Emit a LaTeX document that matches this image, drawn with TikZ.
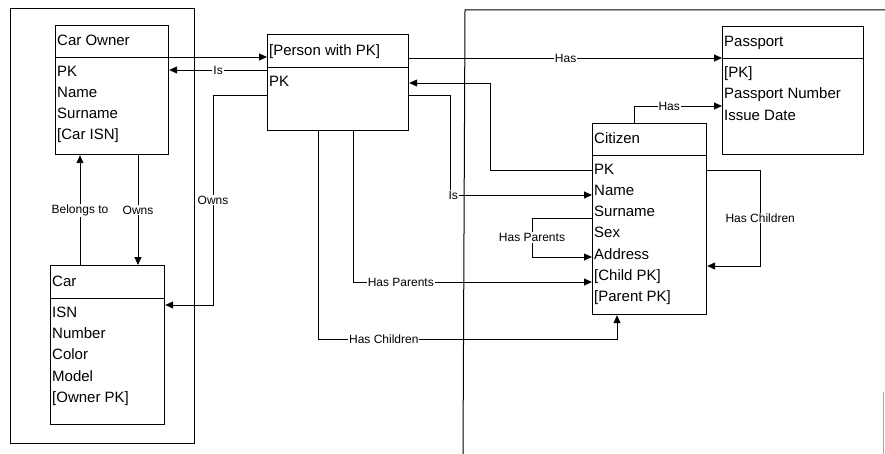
\documentclass[tikz,border=0pt]{standalone}
\usepackage{fontspec}
\setmainfont{Liberation Sans}
\usetikzlibrary{arrows.meta}
\begin{document}
\begin{tikzpicture}[x=1pt,y=-1pt,
  box/.style={draw, line width=1.2pt, inner sep=0pt, anchor=north west},
  ttl/.style={anchor=west, inner sep=0pt, xshift=2pt, text height=11pt, text depth=3pt, font=\fontsize{15}{18}\selectfont},
  attr/.style={anchor=north west, inner sep=0pt, align=left, font=\fontsize{15}{21.3}\selectfont},
  lbl/.style={fill=white, inner sep=1pt, font=\fontsize{12}{14}\selectfont},
  arr/.style={line width=0.9pt, -{Triangle[length=8pt,width=7pt]}},
  grp/.style={line width=1pt}
]
\useasboundingbox (0,0) rectangle (885,454);

% group frames
\draw[grp] (10,9) rectangle (194,443);
\draw[grp] (463,454) -- (465,10) -- (885,10);
\draw[grp, black!35] (883,392) -- (883,454);

% Car Owner
\node[box, minimum width=113, minimum height=32] (ownerH) at (55,25) {};
\node[box, minimum width=113, minimum height=97] (ownerB) at (55,57) {};
\node[ttl] (ownerT) at (ownerH.west) {Car Owner};
\node[attr] (ownerA) at ([xshift=2pt,yshift=-8.5pt]ownerB.north west) {PK\\Name\\Surname\\{[Car ISN]}};

% Car
\node[box, minimum width=114, minimum height=33] (carH) at (50,265) {};
\node[box, minimum width=114, minimum height=126] (carB) at (50,298) {};
\node[ttl] (carT) at (carH.west) {Car};
\node[attr] (carA) at ([xshift=2pt,yshift=-8.5pt]carB.north west) {ISN\\Number\\Color\\Model\\{[Owner PK]}};

% Person with PK
\node[box, minimum width=141, minimum height=33] (personH) at (267,34) {};
\node[box, minimum width=141, minimum height=63] (personB) at (267,67) {};
\node[ttl] (personT) at (personH.west) {[Person with PK]};
\node[attr] (personA) at ([xshift=2pt,yshift=-8.5pt]personB.north west) {PK};

% Passport
\node[box, minimum width=141, minimum height=32] (passH) at (722,26) {};
\node[box, minimum width=141, minimum height=96] (passB) at (722,58) {};
\node[ttl] (passT) at (passH.west) {Passport};
\node[attr] (passA) at ([xshift=2pt,yshift=-8.5pt]passB.north west) {{[PK]}\\Passport Number\\Issue Date};

% Citizen
\node[box, minimum width=114, minimum height=32] (citH) at (592,123) {};
\node[box, minimum width=114, minimum height=159] (citB) at (592,155) {};
\node[ttl] (citT) at (citH.west) {Citizen};
\node[attr] (citA) at ([xshift=2pt,yshift=-8.5pt]citB.north west) {PK\\Name\\Surname\\Sex\\Address\\{[Child PK]}\\{[Parent PK]}};

% connectors
\draw[arr] (ownerB.north east) -- (ownerB.north east -| personH.west);
\draw[arr] ([yshift=-3pt]personB.north west) -- node[lbl, pos=0.5]{Is} ([yshift=-3pt]personB.north west -| ownerB.east);
\draw[arr] ([yshift=-28pt]personB.north west) -- ++(-54,0) |- node[lbl, pos=0.25]{Owns} ([yshift=-7pt]carB.north east);
\draw[arr] ([xshift=30pt]carH.north west) -- node[lbl]{Belongs to} ([xshift=30pt]carH.north west |- ownerB.south);
\draw[arr] ([xshift=83pt]ownerB.south west) -- node[lbl]{Owns} ([xshift=83pt]ownerB.south west |- carH.north);
\draw[arr] (personH.east |- passB.north west) -- node[lbl, pos=0.5]{Has} (passB.north west);
\draw[arr] ([xshift=42pt]citH.north west) |- node[lbl, pos=0.7]{Has} ([yshift=-48pt]passB.north west);
\draw[arr] ([yshift=-15pt]citB.north west) -- ++(-102,0) |- ([yshift=-16pt]personB.north east);
\draw[arr] ([yshift=-28pt]personB.north east) -- ++(41,0) |- node[lbl, pos=0.5, xshift=3pt]{Is} ([yshift=-40pt]citB.north west);
\draw[arr] ([yshift=-63pt]citB.north west) -- ++(-60,0) |- node[lbl, pos=0.25]{Has Parents} ([yshift=-102pt]citB.north west);
\draw[arr] ([xshift=86pt]personB.south west) |- node[lbl, pos=0.6]{Has Parents} ([yshift=-127pt]citB.north west);
\draw[arr] ([xshift=51pt]personB.south west) -- ++(0,208) -| node[lbl, pos=0.11]{Has Children} ([xshift=25pt]citB.south west);
\draw[arr] ([yshift=-15pt]citB.north east) -- ++(53,0) |- node[lbl, pos=0.25]{Has Children} ([yshift=-111pt]citB.north east);
\end{tikzpicture}
\end{document}
